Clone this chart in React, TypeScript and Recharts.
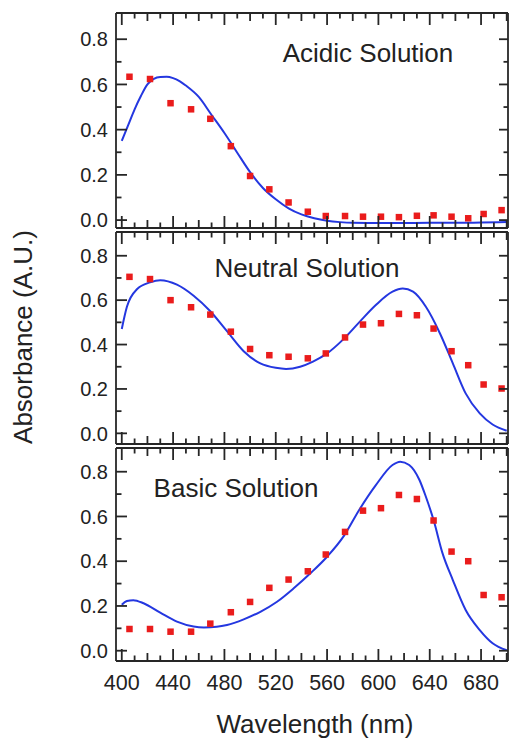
import React from 'react';
import { ComposedChart, Line, Scatter, XAxis, YAxis } from 'recharts';

// ---- data ----
const wavelengthTicks = [400, 410, 420, 430, 440, 450, 460, 470, 480, 490, 500, 510, 520, 530, 540, 550, 560, 570, 580, 590, 600, 610, 620, 630, 640, 650, 660, 670, 680, 690, 700];
const wavelengthLabels = [400, 440, 480, 520, 560, 600, 640, 680];
const absorbanceTicks = [0, 0.1, 0.2, 0.3, 0.4, 0.5, 0.6, 0.7, 0.8];

const measuredWavelength = [406, 422, 438, 454, 469, 485, 500, 515, 530, 545, 559, 574, 588, 602, 616, 630, 643, 657, 670, 682, 696];
const acidicMeasured = [0.634, 0.624, 0.517, 0.49, 0.448, 0.327, 0.195, 0.136, 0.078, 0.037, 0.018, 0.018, 0.015, 0.015, 0.013, 0.019, 0.021, 0.015, 0.008, 0.027, 0.044];
const neutralMeasured = [0.705, 0.695, 0.6, 0.568, 0.535, 0.458, 0.38, 0.352, 0.345, 0.338, 0.36, 0.432, 0.49, 0.496, 0.538, 0.532, 0.472, 0.37, 0.307, 0.22, 0.202];
const basicMeasured = [0.097, 0.097, 0.085, 0.085, 0.121, 0.172, 0.218, 0.281, 0.318, 0.355, 0.43, 0.531, 0.626, 0.637, 0.696, 0.678, 0.582, 0.443, 0.4, 0.249, 0.239];

const acidicCurveWl = [400, 405, 410, 415, 420, 425, 430, 435, 440, 445, 450, 460, 470, 480, 490, 500, 510, 520, 530, 540, 550, 560, 570, 580, 600, 620, 640, 660, 680, 700];
const acidicCurve = [0.35, 0.42, 0.49, 0.55, 0.6, 0.625, 0.633, 0.634, 0.628, 0.615, 0.595, 0.545, 0.465, 0.385, 0.298, 0.212, 0.142, 0.092, 0.052, 0.025, 0.008, -0.003, -0.009, -0.012, -0.013, -0.013, -0.012, -0.012, -0.011, -0.009];

const neutralCurveWl = [400, 404, 412, 422, 430, 443, 456, 469, 482, 495, 508, 520, 528, 539, 549, 560, 572, 585, 598, 611, 619, 627, 637, 648, 658, 668, 679, 689, 700];
const neutralCurve = [0.47, 0.57, 0.65, 0.68, 0.69, 0.67, 0.62, 0.55, 0.46, 0.37, 0.315, 0.295, 0.29, 0.3, 0.323, 0.36, 0.42, 0.5, 0.578, 0.638, 0.652, 0.638, 0.57, 0.45, 0.315, 0.18, 0.09, 0.04, 0.012];

const basicCurveWl = [400, 404, 409, 417, 430, 443, 456, 464, 474, 482, 495, 508, 521, 534, 547, 560, 573, 585, 598, 611, 617, 624, 632, 637, 643, 650, 658, 668, 679, 689, 700];
const basicCurve = [0.205, 0.222, 0.226, 0.212, 0.17, 0.13, 0.108, 0.104, 0.107, 0.115, 0.14, 0.174, 0.219, 0.279, 0.346, 0.42, 0.512, 0.629, 0.74, 0.83, 0.845, 0.83, 0.763, 0.688, 0.584, 0.435, 0.316, 0.182, 0.092, 0.033, 0.002];

const panelTitles = ['Acidic Solution', 'Neutral Solution', 'Basic Solution'];

// ---- styling ----
const W = 513;
const H = 740;
const PLOT_LEFT = 116;
const PLOT_RIGHT = 508;
const FONT = '"Liberation Sans", Arial, Helvetica, sans-serif';
const FRAME = '#262626';
const BLUE = '#2437e0';
const RED = '#ea1c1c';
const X_DOMAIN: [number, number] = [395.5, 701];
const AXIS_EPS = 0.01;
const TICK_W = 1.8;

const zip = (xs: number[], ys: number[]) => xs.map((x, i) => ({ x, y: ys[i] }));

type PanelCfg = {
  top: number;
  bottom: number;
  domain: [number, number];
  title: string;
  titleX: number;
  titleY: number;
  curve: { x: number; y: number }[];
  points: { x: number; y: number }[];
  showXLabels: boolean;
};

const panels: PanelCfg[] = [
  {
    top: 13, bottom: 228, domain: [-0.035, 0.916],
    title: panelTitles[0], titleX: 368, titleY: 62,
    curve: zip(acidicCurveWl, acidicCurve), points: zip(measuredWavelength, acidicMeasured), showXLabels: false,
  },
  {
    top: 232, bottom: 444, domain: [-0.048, 0.907],
    title: panelTitles[1], titleX: 307, titleY: 277,
    curve: zip(neutralCurveWl, neutralCurve), points: zip(measuredWavelength, neutralMeasured), showXLabels: false,
  },
  {
    top: 448, bottom: 661, domain: [-0.046, 0.906],
    title: panelTitles[2], titleX: 236, titleY: 497,
    curve: zip(basicCurveWl, basicCurve), points: zip(measuredWavelength, basicMeasured), showXLabels: true,
  },
];

const xTickLen = (v: number) => (v % 40 === 0 ? 12 : v % 20 === 0 ? 8 : 5.5);
const isMajorY = (v: number) => Math.round(v * 10) % 2 === 0;

const makeBottomTick = (axisY: number, showLabels: boolean) => (props: any) => {
  const { x, payload } = props;
  const v = payload.value as number;
  const len = xTickLen(v);
  return (
    <g>
      <line x1={x} y1={axisY} x2={x} y2={axisY - len} stroke={FRAME} strokeWidth={TICK_W} />
      {showLabels && wavelengthLabels.includes(v) && (
        <text x={x} y={axisY + 29} textAnchor="middle" fontSize={21.5} fill="#222" fontFamily={FONT}>
          {v}
        </text>
      )}
    </g>
  );
};

const makeTopTick = (axisY: number) => (props: any) => {
  const { x, payload } = props;
  const len = xTickLen(payload.value);
  return <line x1={x} y1={axisY} x2={x} y2={axisY + len} stroke={FRAME} strokeWidth={TICK_W} />;
};

const LeftTick = (props: any) => {
  const { y, payload } = props;
  const v = payload.value as number;
  const major = isMajorY(v);
  return (
    <g>
      <line x1={PLOT_LEFT} y1={y} x2={PLOT_LEFT + (major ? 11 : 5.5)} y2={y} stroke={FRAME} strokeWidth={TICK_W} />
      {major && (
        <text x={PLOT_LEFT - 8} y={y + 7.2} textAnchor="end" fontSize={20} fill="#222" fontFamily={FONT}>
          {v.toFixed(1)}
        </text>
      )}
    </g>
  );
};

const RightTick = (props: any) => {
  const { y, payload } = props;
  const major = isMajorY(payload.value);
  return <line x1={PLOT_RIGHT} y1={y} x2={PLOT_RIGHT - (major ? 9 : 4.5)} y2={y} stroke={FRAME} strokeWidth={TICK_W} />;
};

const Square = (props: any) => {
  const { cx, cy } = props;
  if (cx == null || cy == null) return null;
  const s = 6.5;
  return <rect x={cx - s / 2} y={cy - s / 2} width={s} height={s} fill={RED} />;
};

const axisLineStyle = { stroke: FRAME, strokeWidth: 1.8 };

const Panel = ({ cfg }: { cfg: PanelCfg }) => (
  <div style={{ position: 'absolute', left: 0, top: 0 }}>
    <ComposedChart
      width={W}
      height={H}
      margin={{ top: cfg.top - AXIS_EPS, right: W - PLOT_RIGHT - AXIS_EPS, bottom: H - cfg.bottom - AXIS_EPS, left: 0 }}
    >
      <XAxis
        xAxisId="b"
        type="number"
        dataKey="x"
        orientation="bottom"
        domain={X_DOMAIN}
        allowDataOverflow
        ticks={wavelengthTicks}
        interval={0}
        height={AXIS_EPS}
        tickSize={0}
        tickMargin={0}
        tickLine={false}
        axisLine={axisLineStyle}
        tick={makeBottomTick(cfg.bottom, cfg.showXLabels)}
      />
      <XAxis
        xAxisId="t"
        type="number"
        dataKey="x"
        orientation="top"
        domain={X_DOMAIN}
        allowDataOverflow
        ticks={wavelengthTicks}
        interval={0}
        height={AXIS_EPS}
        tickSize={0}
        tickMargin={0}
        tickLine={false}
        axisLine={axisLineStyle}
        tick={makeTopTick(cfg.top)}
      />
      <YAxis
        yAxisId="l"
        type="number"
        dataKey="y"
        orientation="left"
        domain={cfg.domain}
        allowDataOverflow
        ticks={absorbanceTicks}
        interval={0}
        width={PLOT_LEFT}
        tickSize={0}
        tickMargin={0}
        tickLine={false}
        axisLine={axisLineStyle}
        tick={LeftTick}
      />
      <YAxis
        yAxisId="r"
        type="number"
        dataKey="y"
        orientation="right"
        domain={cfg.domain}
        allowDataOverflow
        ticks={absorbanceTicks}
        interval={0}
        width={AXIS_EPS}
        tickSize={0}
        tickMargin={0}
        tickLine={false}
        axisLine={axisLineStyle}
        tick={RightTick}
      />
      <Line
        xAxisId="b"
        yAxisId="l"
        data={cfg.curve}
        dataKey="y"
        type="monotone"
        stroke={BLUE}
        strokeWidth={2}
        dot={false}
        activeDot={false}
        isAnimationActive={false}
      />
      <Scatter
        xAxisId="b"
        yAxisId="l"
        data={cfg.points}
        dataKey="y"
        shape={Square}
        isAnimationActive={false}
      />
      <Line
        xAxisId="t"
        yAxisId="r"
        data={cfg.points}
        dataKey="y"
        stroke="none"
        dot={false}
        activeDot={false}
        legendType="none"
        isAnimationActive={false}
      />
    </ComposedChart>
    <div
      style={{
        position: 'absolute',
        left: cfg.titleX,
        top: cfg.titleY - 24,
        transform: 'translateX(-50%)',
        fontFamily: FONT,
        fontSize: 26,
        lineHeight: '30px',
        color: '#222',
        whiteSpace: 'nowrap',
      }}
    >
      {cfg.title}
    </div>
  </div>
);

export default function App() {
  return (
    <div
      style={{
        position: 'absolute',
        left: 0,
        top: 0,
        width: W,
        height: H,
        background: '#fff',
        fontFamily: FONT,
        overflow: 'hidden',
      }}
    >
      {panels.map((p, i) => (
        <Panel key={i} cfg={p} />
      ))}
      <div
        style={{
          position: 'absolute',
          left: 23,
          top: 337,
          transform: 'translate(-50%, -50%) rotate(-90deg)',
          fontFamily: FONT,
          fontSize: 26,
          color: '#222',
          whiteSpace: 'nowrap',
        }}
      >
        Absorbance (A.U.)
      </div>
      <div
        style={{
          position: 'absolute',
          left: 315,
          top: 724,
          transform: 'translate(-50%, -50%)',
          fontFamily: FONT,
          fontSize: 26,
          color: '#222',
          whiteSpace: 'nowrap',
        }}
      >
        Wavelength (nm)
      </div>
    </div>
  );
}
